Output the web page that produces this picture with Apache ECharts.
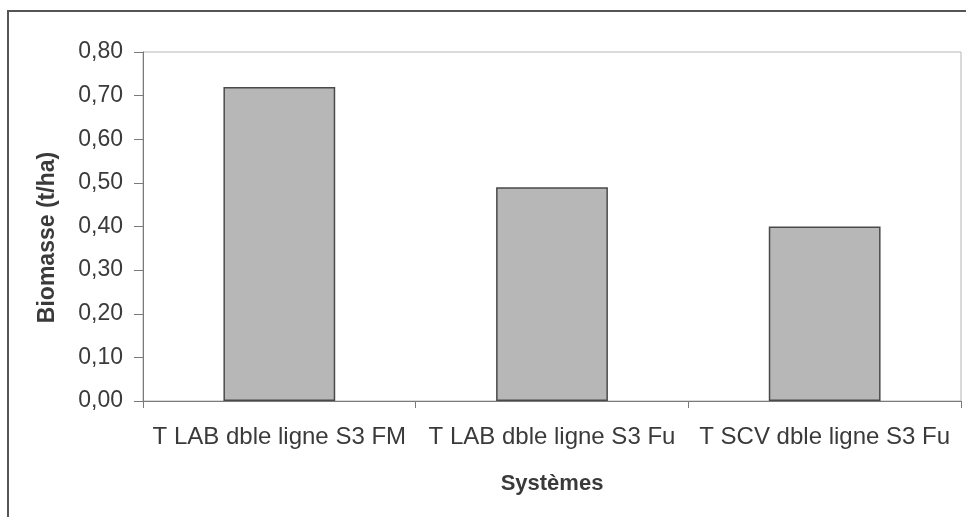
<!DOCTYPE html>
<html>
<head>
<meta charset="utf-8">
<script src="https://cdn.jsdelivr.net/npm/echarts@6/dist/echarts.min.js"></script>
<style>
  html, body { margin: 0; padding: 0; background: #fff; }
  #chart { width: 966px; height: 517px; }
</style>
</head>
<body>
<div id="chart"></div>
<script>
// data
var categories = ['T LAB dble ligne S3 FM', 'T LAB dble ligne S3 Fu', 'T SCV dble ligne S3 Fu']
var biomasse = [0.72, 0.49, 0.40]

var textColor = '#3a3a3a'
var chart = echarts.init(document.getElementById('chart'))

chart.setOption({
  animation: false,
  textStyle: { fontFamily: 'Arial, "Liberation Sans", sans-serif' },
  graphic: [
    {
      type: 'rect',
      shape: { x: 8, y: 11, width: 1000, height: 600 },
      style: { fill: 'none', stroke: '#555', lineWidth: 2 },
      silent: true
    }
  ],
  grid: {
    left: 143,
    top: 52,
    right: 5,
    bottom: 116,
    show: true,
    borderColor: '#b5b5b5',
    borderWidth: 1,
    backgroundColor: 'transparent'
  },
  xAxis: {
    type: 'category',
    data: categories,
    name: 'Systèmes',
    nameLocation: 'middle',
    nameGap: 72,
    nameTextStyle: { fontSize: 22, fontWeight: 'bold', color: textColor },
    axisLine: { lineStyle: { color: '#7a7a7a', width: 1 } },
    axisTick: { show: true, alignWithLabel: false, length: 7, lineStyle: { color: '#7a7a7a' } },
    axisLabel: { fontSize: 24, color: textColor, margin: 24, interval: 0 },
    splitLine: { show: false }
  },
  yAxis: {
    type: 'value',
    min: 0,
    max: 0.8,
    interval: 0.1,
    name: 'Biomasse (t/ha)',
    nameLocation: 'middle',
    nameGap: 84,
    nameTextStyle: { fontSize: 23, fontWeight: 'bold', color: textColor, padding: [0, 22, 0, 0] },
    axisLine: { show: true, lineStyle: { color: '#7a7a7a', width: 1 } },
    axisTick: { show: true, length: 9, lineStyle: { color: '#7a7a7a' } },
    axisLabel: {
      fontSize: 23,
      color: textColor,
      margin: 20,
      formatter: function (v) { return v.toFixed(2).replace('.', ',') }
    },
    splitLine: { show: false }
  },
  series: [
    {
      type: 'bar',
      data: biomasse,
      barWidth: '41%',
      itemStyle: { color: '#b7b7b7', borderColor: '#4a4a4a', borderWidth: 1.5 }
    }
  ]
})
</script>
</body>
</html>
